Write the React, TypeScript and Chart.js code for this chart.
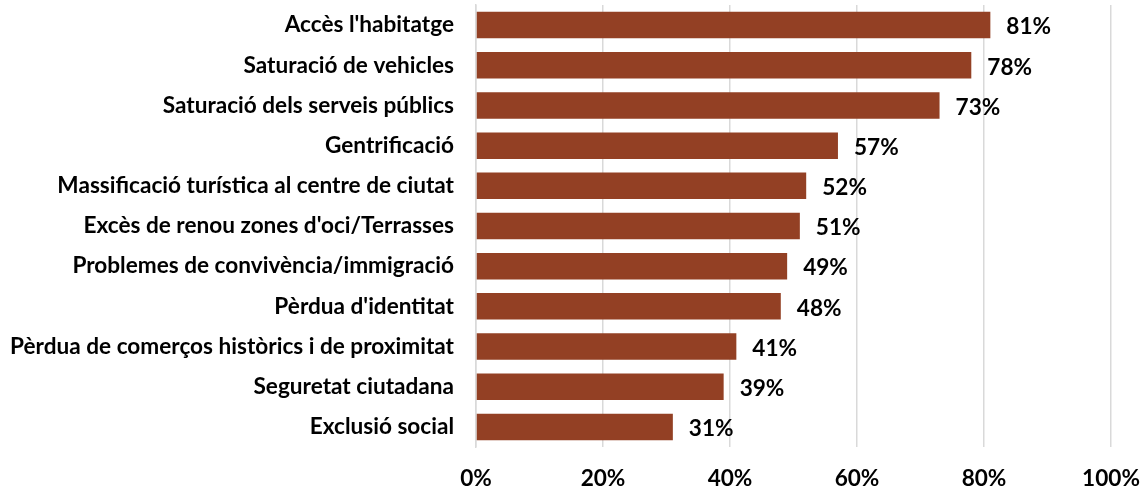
import React, { useEffect, useRef } from "react";
import { Chart, registerables } from "chart.js";

Chart.register(...registerables);

const categories = [
  "Accès l'habitatge",
  "Saturació de vehicles",
  "Saturació dels serveis públics",
  "Gentrificació",
  "Massificació turística al centre de ciutat",
  "Excès de renou zones d'oci/Terrasses",
  "Problemes de convivència/immigració",
  "Pèrdua d'identitat",
  "Pèrdua de comerços històrics i de proximitat",
  "Seguretat ciutadana",
  "Exclusió social",
];
const values = [81, 78, 73, 57, 52, 51, 49, 48, 41, 39, 31];
const xTicks = [0, 20, 40, 60, 80, 100];

const FONT = "Lato";
const FS = 22.6;

const labelPlugin = {
  id: "valueLabels",
  afterDatasetsDraw(chart: any) {
    const ctx = chart.ctx;
    const meta = chart.getDatasetMeta(0);
    ctx.save();
    ctx.font = `bold ${FS}px ${FONT}`;
    ctx.fillStyle = "#000";
    ctx.textAlign = "left";
    ctx.textBaseline = "middle";
    meta.data.forEach((bar: any, i: number) => {
      ctx.fillText(values[i] + "%", bar.x + 16, bar.y + 2);
    });
    ctx.restore();
  },
};

export default function App() {
  const ref = useRef<HTMLCanvasElement>(null);
  useEffect(() => {
    document.body.style.margin = "0";
    const chart = new Chart(ref.current!, {
      type: "bar",
      data: {
        labels: categories,
        datasets: [
          {
            data: values,
            backgroundColor: "#934024",
            barPercentage: 0.66,
            categoryPercentage: 1,
          },
        ],
      },
      options: {
        indexAxis: "y",
        animation: false,
        responsive: false,
        layout: { autoPadding: false, padding: { top: 5, right: 31, left: 0, bottom: 0 } },
        plugins: { legend: { display: false }, tooltip: { enabled: false } },
        scales: {
          x: {
            min: 0,
            max: 100,
            afterFit: (s: any) => {
              s.height = 39;
              s.paddingLeft = 0;
              s.paddingRight = 0;
            },
            afterBuildTicks: (s: any) => {
              s.ticks = xTicks.map((v) => ({ value: v }));
            },
            ticks: {
              callback: (v: any) => v + "%",
              color: "#000",
              font: { family: FONT, size: FS, weight: "bold" },
              padding: 18,
              maxRotation: 0,
            },
            grid: { color: "#d9d9d9", lineWidth: 1.5, drawTicks: false },
            border: { display: false },
          },
          y: {
            afterFit: (s: any) => {
              s.width = 476;
              s.paddingTop = 0;
              s.paddingBottom = 0;
            },
            ticks: {
              color: "#000",
              font: { family: FONT, size: FS, weight: "bold" },
              padding: 14,
            },
            grid: { display: false },
            border: { display: true, color: "#d9d9d9", width: 1.5 },
          },
        },
      },
      plugins: [labelPlugin],
    });
    return () => chart.destroy();
  }, []);
  return <canvas ref={ref} width={1142} height={486} />;
}
